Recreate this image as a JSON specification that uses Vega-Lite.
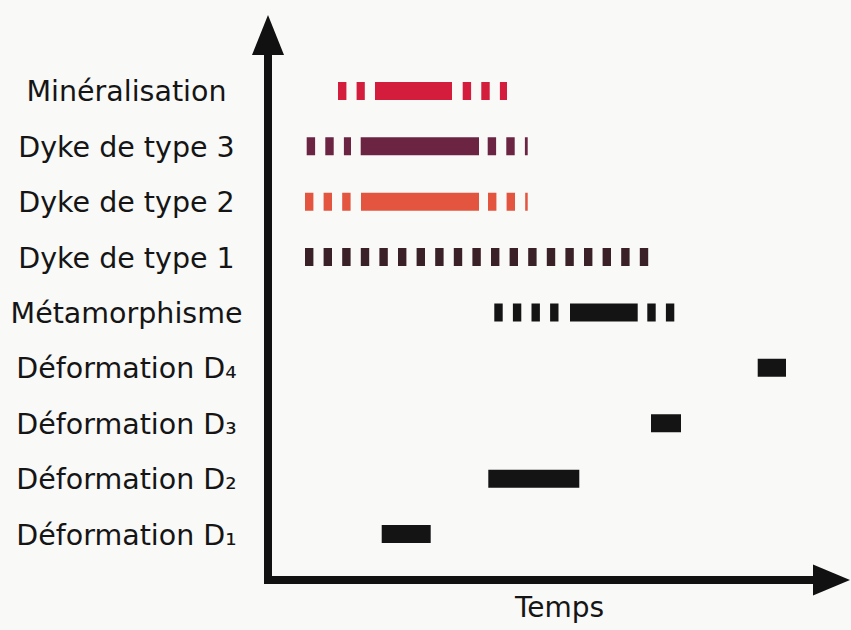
{
  "$schema": "https://vega.github.io/schema/vega-lite/v6.json",
  "width": 582,
  "height": 565,
  "autosize": {"type": "none"},
  "padding": {"left": 268, "top": 15, "right": 1, "bottom": 50},
  "background": "#f9f9f8",
  "config": {"view": {"stroke": null}, "font": "DejaVu Sans"},
  "datasets": {
    "periodes": [
      {"evenement": "Minéralisation", "rang": 9, "style": "tirets", "debut": 70, "fin": 96.8},
      {"evenement": "Minéralisation", "rang": 9, "style": "continu", "debut": 107, "fin": 184},
      {"evenement": "Minéralisation", "rang": 9, "style": "tirets", "debut": 194.7, "fin": 239},
      {"evenement": "Dyke de type 3", "rang": 8, "style": "tirets", "debut": 38.7, "fin": 83},
      {"evenement": "Dyke de type 3", "rang": 8, "style": "continu", "debut": 92.7, "fin": 211},
      {"evenement": "Dyke de type 3", "rang": 8, "style": "tirets", "debut": 219.7, "fin": 259.7},
      {"evenement": "Dyke de type 2", "rang": 7, "style": "tirets", "debut": 37, "fin": 82.7},
      {"evenement": "Dyke de type 2", "rang": 7, "style": "continu", "debut": 93, "fin": 211},
      {"evenement": "Dyke de type 2", "rang": 7, "style": "tirets", "debut": 220, "fin": 259.7},
      {"evenement": "Dyke de type 1", "rang": 6, "style": "tirets", "debut": 37, "fin": 380.3},
      {"evenement": "Métamorphisme", "rang": 5, "style": "tirets", "debut": 226.3, "fin": 291},
      {"evenement": "Métamorphisme", "rang": 5, "style": "continu", "debut": 302, "fin": 369.7},
      {"evenement": "Métamorphisme", "rang": 5, "style": "tirets", "debut": 379.3, "fin": 407},
      {"evenement": "Déformation D₄", "rang": 4, "style": "continu", "debut": 489.7, "fin": 518},
      {"evenement": "Déformation D₃", "rang": 3, "style": "continu", "debut": 383, "fin": 413},
      {"evenement": "Déformation D₂", "rang": 2, "style": "continu", "debut": 220.3, "fin": 311.3},
      {"evenement": "Déformation D₁", "rang": 1, "style": "continu", "debut": 113.7, "fin": 162.7}
    ]
  },
  "layer": [
    {
      "data": {"name": "periodes"},
      "mark": {"type": "rule", "strokeWidth": 18, "strokeCap": "butt"},
      "encoding": {
        "x": {
          "field": "debut",
          "type": "quantitative",
          "scale": {"domain": [0, 582], "nice": false, "zero": false},
          "axis": {
            "title": "Temps",
            "domain": false,
            "ticks": false,
            "labels": false,
            "grid": false,
            "titleFont": "DejaVu Sans",
            "titleFontSize": 28,
            "titleFontWeight": "normal",
            "titleColor": "#151515",
            "titlePadding": 14
          }
        },
        "x2": {"field": "fin"},
        "y": {
          "field": "rang",
          "type": "quantitative",
          "scale": {"domain": [0.17, 10.37], "nice": false, "zero": false},
          "axis": {
            "title": null,
            "domain": false,
            "ticks": false,
            "grid": false,
            "values": [1, 2, 3, 4, 5, 6, 7, 8, 9],
            "labelExpr": "['', 'Déformation D₁', 'Déformation D₂', 'Déformation D₃', 'Déformation D₄', 'Métamorphisme', 'Dyke de type 1', 'Dyke de type 2', 'Dyke de type 3', 'Minéralisation'][datum.value]",
            "labelAlign": "center",
            "labelBaseline": "middle",
            "labelPadding": 142,
            "labelOffset": 1,
            "labelFont": "DejaVu Sans",
            "labelFontSize": 28.5,
            "labelColor": "#151515",
            "labelLimit": 400,
            "labelFlush": false,
            "labelOverlap": false
          }
        },
        "stroke": {
          "field": "evenement",
          "type": "nominal",
          "scale": {
            "domain": ["Minéralisation", "Dyke de type 3", "Dyke de type 2", "Dyke de type 1", "Métamorphisme", "Déformation D₄", "Déformation D₃", "Déformation D₂", "Déformation D₁"],
            "range": ["#d41c3c", "#6b2441", "#e4553f", "#3a2027", "#141414", "#141414", "#141414", "#141414", "#141414"]
          },
          "legend": null
        },
        "strokeDash": {
          "field": "style",
          "type": "nominal",
          "scale": {"domain": ["continu", "tirets"], "range": [[1, 0], [8.4, 10.2]]},
          "legend": null
        }
      }
    },
    {
      "data": {"values": [{}]},
      "mark": {"type": "rule", "strokeWidth": 8, "strokeCap": "square", "color": "#111111"},
      "encoding": {"x": {"datum": 0}, "y": {"datum": 0.17}, "y2": {"datum": 9.65}}
    },
    {
      "data": {"values": [{}]},
      "mark": {"type": "rule", "strokeWidth": 8, "strokeCap": "square", "color": "#111111"},
      "encoding": {"x": {"datum": 0}, "x2": {"datum": 545}, "y": {"datum": 0.17}}
    },
    {
      "data": {"values": [{}]},
      "mark": {"type": "point", "filled": true, "opacity": 1, "shape": "M0,0L0.8,2L-0.8,2Z", "size": 1600, "color": "#111111"},
      "encoding": {"x": {"datum": 0}, "y": {"datum": 10.37}}
    },
    {
      "data": {"values": [{}]},
      "mark": {"type": "point", "filled": true, "opacity": 1, "shape": "M0,0L-2,-0.84L-2,0.84Z", "size": 1369, "color": "#111111"},
      "encoding": {"x": {"datum": 582}, "y": {"datum": 0.17}}
    }
  ]
}
